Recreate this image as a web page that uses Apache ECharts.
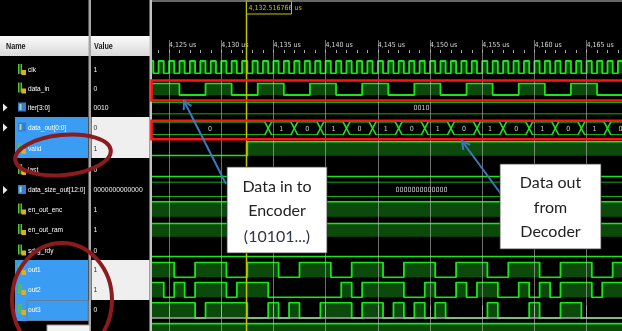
<!DOCTYPE html>
<html>
<head>
<meta charset="utf-8">
<script src="https://cdn.jsdelivr.net/npm/echarts@6/dist/echarts.min.js"></script>
<style>
  html, body { margin: 0; padding: 0; background: #000; }
  #chart { width: 622px; height: 331px; }
</style>
</head>
<body>
<div id="chart"></div>
<script>
// ---- simulation data (time in microseconds) ----
const signalNames = ['clk', 'data_in', 'iter[3:0]', 'data_out[0:0]', 'valid', 'last',
  'data_size_out[12:0]', 'en_out_enc', 'en_out_ram', 'sdrg_rdy', 'out1', 'out2', 'out3'];
const signalValues = ['1', '0', '0010', '0', '1', '0', '0000000000000', '1', '1', '0', '1', '1', '0'];
const cursorTime = 4132.516766;
const tickLabelStep = 5;
const minorTickStep = 1;

// digital waves: [time, level from that time on]
const clkWave = [
  [4122,1],[4122.5,0],[4123,1],[4123.5,0],[4124,1],[4124.5,0],[4125,1],[4125.5,0],[4126,1],[4126.5,0],
  [4127,1],[4127.5,0],[4128,1],[4128.5,0],[4129,1],[4129.5,0],[4130,1],[4130.5,0],[4131,1],[4131.5,0],
  [4132,1],[4132.5,0],[4133,1],[4133.5,0],[4134,1],[4134.5,0],[4135,1],[4135.5,0],[4136,1],[4136.5,0],
  [4137,1],[4137.5,0],[4138,1],[4138.5,0],[4139,1],[4139.5,0],[4140,1],[4140.5,0],[4141,1],[4141.5,0],
  [4142,1],[4142.5,0],[4143,1],[4143.5,0],[4144,1],[4144.5,0],[4145,1],[4145.5,0],[4146,1],[4146.5,0],
  [4147,1],[4147.5,0],[4148,1],[4148.5,0],[4149,1],[4149.5,0],[4150,1],[4150.5,0],[4151,1],[4151.5,0],
  [4152,1],[4152.5,0],[4153,1],[4153.5,0],[4154,1],[4154.5,0],[4155,1],[4155.5,0],[4156,1],[4156.5,0],
  [4157,1],[4157.5,0],[4158,1],[4158.5,0],[4159,1],[4159.5,0],[4160,1],[4160.5,0],[4161,1],[4161.5,0],
  [4162,1],[4162.5,0],[4163,1],[4163.5,0],[4164,1],[4164.5,0],[4165,1],[4165.5,0],[4166,1],[4166.5,0],
  [4167,1],[4167.5,0],[4168,1],[4168.5,0],[4169,1]
];
const dataInWave = [[4120,1],[4126,0],[4128.5,1],[4131,0],[4133.5,1],[4136,0],[4138.5,1],[4141,0],
  [4143.5,1],[4146,0],[4148.5,1],[4151,0],[4153.5,1],[4156,0],[4158.5,1],[4161,0],[4163.5,1],[4166,0],[4170,0]];
const validWave = [[4120,0],[4132.5,1],[4170,1]];
const lastWave = [[4120,0],[4170,0]];
const enOutEncWave = [[4120,1],[4170,1]];
const enOutRamWave = [[4120,1],[4170,1]];
const sdrgRdyWave = [[4120,0],[4170,0]];
const out1Wave = [[4120,1],[4125.5,0],[4127.5,1],[4130.5,0],[4132.5,1],[4135.5,0],[4137.5,1],[4140.5,0],
  [4142.5,1],[4145.5,0],[4147.5,1],[4150.5,0],[4152.5,1],[4155.5,0],[4157.5,1],[4160.5,0],[4162.5,1],
  [4165.5,0],[4167.5,1],[4170,1]];
const out2Wave = [[4120,1],[4124.5,0],[4125.5,1],[4126.5,0],[4127.5,1],[4130.5,0],[4131.5,1],[4134.5,0],
  [4141.5,1],[4142.5,0],[4143.5,1],[4147.5,0],[4149.5,1],[4150.5,0],[4152.5,1],[4153.5,0],[4154.5,1],
  [4156.5,0],[4158.5,1],[4159.5,0],[4160.5,1],[4161.5,0],[4162.5,1],[4165.5,0],[4166.5,1],[4170,1]];
const out3Wave = [[4120,1],[4127.5,0],[4128.5,1],[4132.5,0],[4134.5,1],[4135.5,0],[4136.5,1],[4137.5,0],
  [4139.5,1],[4142.5,0],[4143.5,1],[4145.5,0],[4146.5,1],[4147.5,0],[4148.5,1],[4149.5,0],[4150.5,1],
  [4151.5,0],[4155.5,1],[4156.5,0],[4159.5,1],[4160.5,0],[4162.5,1],[4164.5,0],[4170,0]];
const nextRowWave = [[4120,1],[4170,1]];

// bus values: [start, end, shown value]
const iterBus = [[4100, 4175, '0010']];
const dataSizeBus = [[4100, 4175, '0000000000000']];
const dataOutBus = [[4100,4134.5,'0'],[4134.5,4137,'1'],[4137,4139.5,'0'],[4139.5,4142,'1'],[4142,4144.5,'0'],
  [4144.5,4147,'1'],[4147,4149.5,'0'],[4149.5,4152,'1'],[4152,4154.5,'0'],[4154.5,4157,'1'],[4157,4159.5,'0'],
  [4159.5,4162,'1'],[4162,4164.5,'0'],[4164.5,4167,'1'],[4167,4169.5,'0']];

// ---- layout ----
const W = 622, H = 331;
const WAVE_LEFT = 152;
const PX_PER_US = 10.44;
const X_AT_4125 = 169;
const axisMin = 4120;
const axisMax = 4125 + (W - X_AT_4125) / PX_PER_US;
const GRID_LEFT = X_AT_4125 - (4125 - axisMin) * PX_PER_US;

const GREEN = '#1be41b';
const FILL = '#0b4a0b';
const GRID_GRAY = 'rgba(200,200,200,0.55)';
const CURSOR = '#c4c400';
const AXIS_FONT = '"Liberation Sans Narrow", "DejaVu Sans Condensed", "Liberation Sans", sans-serif';

// [top, height] of each waveform row
const rowBands = [
  [61, 12.3], [83.3, 11.7], [102, 12.3], [121.7, 13.3], [141.7, 14], [162.7, 14], [181.7, 15],
  [201.7, 15], [223.3, 13.4], [243, 13.7], [262.3, 15], [282.3, 15], [302.7, 15.3], [323.5, 15]
];
const nameY = [70, 88.5, 107.5, 127.5, 149, 170, 190, 209.5, 230, 250.5, 270, 290, 310];

const rowSeries = [
  { kind: 'wave', data: clkWave },
  { kind: 'wave', data: dataInWave },
  { kind: 'bus', data: iterBus },
  { kind: 'bus', data: dataOutBus },
  { kind: 'wave', data: validWave },
  { kind: 'wave', data: lastWave },
  { kind: 'bus', data: dataSizeBus },
  { kind: 'wave', data: enOutEncWave },
  { kind: 'wave', data: enOutRamWave },
  { kind: 'wave', data: sdrgRdyWave },
  { kind: 'wave', data: out1Wave },
  { kind: 'wave', data: out2Wave },
  { kind: 'wave', data: out3Wave },
  { kind: 'wave', data: nextRowWave }
];

const gridBase = { left: GRID_LEFT, right: 0, containLabel: false, outerBoundsMode: 'none' };
const grids = [Object.assign({ top: 40, bottom: 0 }, gridBase)];
// ruler: labelled major ticks with full-height grid lines
const xAxes = [{
  gridIndex: 0, type: 'value', position: 'top', offset: -13,
  min: axisMin, max: axisMax, interval: tickLabelStep, z: 10,
  axisLine: { lineStyle: { color: '#a9a9a9', width: 1.5 } },
  axisTick: { length: 13, lineStyle: { color: GRID_GRAY } },
  axisLabel: {
    align: 'left', margin: 4, fontSize: 7, color: '#d8d8d8', showMinLabel: false, showMaxLabel: false,
    fontFamily: AXIS_FONT, formatter: v => v.toLocaleString('en-US') + ' us'
  },
  splitLine: { show: true, lineStyle: { color: GRID_GRAY, width: 1 } }
}, {
  // ruler: 1 us ticks
  gridIndex: 0, type: 'value', position: 'top', offset: -13,
  min: axisMin, max: axisMax, interval: minorTickStep, z: 10,
  axisLine: { show: false },
  axisTick: { length: 3, lineStyle: { color: '#a9a9a9' } },
  axisLabel: { show: false },
  splitLine: { show: false }
}];
const yAxes = [{ gridIndex: 0, type: 'value', min: 0, max: 1, show: false }];
const series = [];

function busRenderer(rows) {
  return function (params, api) {
    const i = params.dataIndex;
    const a = api.coord([rows[i][0], 1]);
    const b = api.coord([rows[i][1], 0]);
    const top = a[1], bot = b[1], mid = (top + bot) / 2, d = 3.5;
    const x0 = a[0], x1 = b[0];
    const lx = (Math.max(x0, WAVE_LEFT) + x1) / 2;
    return {
      type: 'group',
      children: [
        { type: 'polygon', shape: { points: [[x0, mid], [x0 + d, top], [x1 - d, top], [x1, mid], [x1 - d, bot], [x0 + d, bot]] },
          style: { fill: null, stroke: GREEN, lineWidth: 1.6 } },
        { type: 'text', x: lx, y: mid + 0.5,
          style: { text: rows[i][2], fill: '#d0d0d0', fontSize: 7, align: 'center', verticalAlign: 'middle',
                   fontFamily: AXIS_FONT } }
      ]
    };
  };
}

rowSeries.forEach((r, k) => {
  const gi = k + 1;
  grids.push(Object.assign({ top: rowBands[k][0], height: rowBands[k][1] }, gridBase));
  xAxes.push({ gridIndex: gi, type: 'value', min: axisMin, max: axisMax, show: false });
  yAxes.push({ gridIndex: gi, type: 'value', min: 0, max: 1, show: false });
  if (r.kind === 'wave') {
    series.push({
      type: 'line', xAxisIndex: gi + 1, yAxisIndex: gi, data: r.data, step: 'end', symbol: 'none',
      silent: true, z: 2, lineStyle: { color: GREEN, width: 1.8 },
      areaStyle: { color: FILL, opacity: 1, origin: 'start' }
    });
  } else {
    series.push({
      type: 'custom', xAxisIndex: gi + 1, yAxisIndex: gi, clip: true, silent: true, z: 2,
      data: r.data.map(d => [d[0], d[1]]), renderItem: busRenderer(r.data)
    });
  }
});

// time cursor
series.push({
  type: 'custom', xAxisIndex: 0, yAxisIndex: 0, silent: true, z: 20,
  data: [[cursorTime, 0]],
  renderItem: function (params, api) {
    const x = Math.round(api.coord([api.value(0), 0])[0]) - 0.5;
    const txt = api.value(0).toLocaleString('en-US', { minimumFractionDigits: 6 }) + ' us';
    return {
      type: 'group',
      children: [
        { type: 'line', shape: { x1: x, y1: 0, x2: x, y2: H }, style: { stroke: CURSOR, lineWidth: 1.5 } },
        { type: 'rect', shape: { x: x, y: 1, width: 45, height: 13 }, style: { fill: '#000', stroke: CURSOR, lineWidth: 1 } },
        { type: 'text', x: x + 2, y: 8, style: { text: txt, fill: CURSOR, fontSize: 7, verticalAlign: 'middle',
          fontFamily: AXIS_FONT } }
      ]
    };
  }
});

// ---- name / value pane and annotations ----
const Z = 100;
const els = [];
function add(e, z) { e.z = z || Z; els.push(e); }
const narrow = '"Liberation Sans", Arial, sans-serif';

add({ type: 'rect', shape: { x: 0, y: 0, width: WAVE_LEFT, height: H }, style: { fill: '#000' } });
add({ type: 'line', shape: { x1: WAVE_LEFT, y1: 1, x2: W, y2: 1 }, style: { stroke: '#8a8a8a', lineWidth: 1.5 } });
const headFill = new echarts.graphic.LinearGradient(0, 0, 0, 1, [
  { offset: 0, color: '#fbfbfb' }, { offset: 1, color: '#d9d9d9' }]);
add({ type: 'rect', shape: { x: 0, y: 36, width: 89, height: 20 }, style: { fill: headFill } });
add({ type: 'rect', shape: { x: 91, y: 36, width: 59, height: 20 }, style: { fill: headFill } });
add({ type: 'text', x: 6, y: 46.5, scaleX: 0.8, style: { text: 'Name', fontSize: 9, fontWeight: 'bold', fill: '#1a1a1a', verticalAlign: 'middle', fontFamily: narrow } });
add({ type: 'text', x: 94, y: 46.5, scaleX: 0.8, style: { text: 'Value', fontSize: 9, fontWeight: 'bold', fill: '#1a1a1a', verticalAlign: 'middle', fontFamily: narrow } });

// selected rows
add({ type: 'rect', shape: { x: 15, y: 117, width: 73, height: 41 }, style: { fill: '#3b9cf4' } });
add({ type: 'rect', shape: { x: 91.5, y: 117, width: 58, height: 41 }, style: { fill: '#efefef' } });
add({ type: 'rect', shape: { x: 15, y: 260, width: 73, height: 61 }, style: { fill: '#3b9cf4' } });
add({ type: 'rect', shape: { x: 91.5, y: 260, width: 58, height: 40 }, style: { fill: '#efefef' } });
add({ type: 'rect', shape: { x: 27, y: 300.5, width: 61, height: 20 }, style: { fill: null, stroke: '#5f7f9f', lineWidth: 1 } });

// column separators
add({ type: 'rect', shape: { x: 88.5, y: 0, width: 2.5, height: H }, style: { fill: '#a6a6a6' } });
add({ type: 'rect', shape: { x: 149.5, y: 0, width: 2.5, height: H }, style: { fill: '#c4c4c4' } });

const selectedRows = [3, 4, 10, 11];
const busRows = [2, 3, 6];
signalNames.forEach((name, i) => {
  const y = nameY[i];
  const sel = selectedRows.indexOf(i) >= 0;
  if (busRows.indexOf(i) >= 0) {
    add({ type: 'rect', shape: { x: 18, y: y - 5, width: 8, height: 9 }, style: { fill: '#3a7bd5' } });
    add({ type: 'rect', shape: { x: 19.5, y: y - 3.5, width: 2, height: 6 }, style: { fill: '#9fe09f' } });
    add({ type: 'polygon', shape: { points: [[3, y - 4], [7.5, y], [3, y + 4]] }, style: { fill: '#e8e8e8' } });
  } else {
    add({ type: 'rect', shape: { x: 18, y: y - 6, width: 1.6, height: 10 }, style: { fill: '#58c040' } });
    add({ type: 'rect', shape: { x: 20.5, y: y - 6, width: 1.6, height: 10 }, style: { fill: '#58c040' } });
    add({ type: 'rect', shape: { x: 21.5, y: y, width: 4.5, height: 5 }, style: { fill: '#d8b020' } });
  }
  add({ type: 'text', x: 28, y: y, scaleX: 0.82,
    style: { text: name, fontSize: 8, fill: '#ffffff', verticalAlign: 'middle', fontFamily: narrow } });
  add({ type: 'text', x: 93.5, y: y, scaleX: 0.85,
    style: { text: signalValues[i], fontSize: 8, fill: sel ? '#333' : '#f0f0f0', verticalAlign: 'middle', fontFamily: narrow } });
});
add({ type: 'rect', shape: { x: 47, y: 325, width: 43, height: 8 }, style: { fill: '#f2f2f2', stroke: '#999', lineWidth: 1 } });

// highlight frames around data_in and data_out
add({ type: 'rect', shape: { x: 151.5, y: 80.5, width: 480, height: 20 }, style: { fill: null, stroke: '#ff1414', lineWidth: 2.6 } }, 110);
add({ type: 'rect', shape: { x: 151.5, y: 120.8, width: 480, height: 18.4 }, style: { fill: null, stroke: '#ff1414', lineWidth: 2.6 } }, 110);

// hand-drawn rings
add({ type: 'ellipse', x: 63, y: 155, rotation: 0.1, shape: { cx: 0, cy: 0, rx: 48, ry: 20 }, style: { fill: null, stroke: '#8c1b1e', lineWidth: 4 } }, 110);
add({ type: 'ellipse', x: 62, y: 300, shape: { cx: 0, cy: 0, rx: 50, ry: 57 }, style: { fill: null, stroke: '#8c1b1e', lineWidth: 4 } }, 110);

// callout arrows
function arrow(x1, y1, x2, y2) {
  const ang = Math.atan2(y1 - y2, x1 - x2), L = 9, s = 0.5;
  add({ type: 'line', shape: { x1, y1, x2, y2 }, style: { stroke: '#3c78bc', lineWidth: 2 } }, 110);
  add({ type: 'polyline', shape: { points: [
    [x2 + L * Math.cos(ang + s), y2 + L * Math.sin(ang + s)], [x2, y2],
    [x2 + L * Math.cos(ang - s), y2 + L * Math.sin(ang - s)]] },
    style: { fill: null, stroke: '#3c78bc', lineWidth: 2 } }, 110);
}
arrow(226, 184, 184, 101);
arrow(501, 194, 462, 141);

// callout boxes
function callout(x, y, w, h, lines, ys, colors) {
  add({ type: 'rect', shape: { x, y, width: w, height: h }, style: { fill: '#ffffff', stroke: '#3a3a3a', lineWidth: 0.8 } }, 120);
  lines.forEach((t, i) => add({ type: 'text', x: x + w / 2, y: ys[i],
    style: { text: t, fontSize: 16, fill: colors[i], align: 'center', verticalAlign: 'middle', fontFamily: 'Lato, "Open Sans", sans-serif' } }, 121));
}
callout(227, 167, 100, 86, ['Data in to', 'Encoder', '(10101...)'], [187, 211, 236.5], ['#222', '#222', '#2e3550']);
callout(500, 164, 101, 85, ['Data out', 'from', 'Decoder'], [182.5, 208, 232], ['#222', '#222', '#222']);

const chart = echarts.init(document.getElementById('chart'), null, { renderer: 'canvas' });
chart.setOption({
  backgroundColor: '#000',
  animation: false,
  grid: grids,
  xAxis: xAxes,
  yAxis: yAxes,
  series: series,
  graphic: { elements: els }
});
</script>
</body>
</html>
